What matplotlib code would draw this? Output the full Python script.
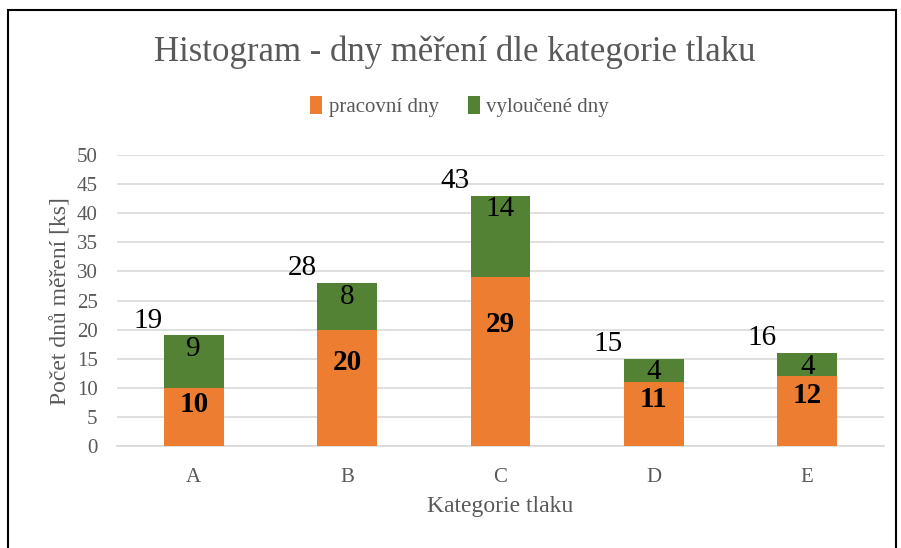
import matplotlib
matplotlib.use("Agg")
import matplotlib.pyplot as plt
import matplotlib.patches as patches

# data
categories = ["A", "B", "C", "D", "E"]
pracovni = [10, 20, 29, 11, 12]
vyloucene = [9, 8, 14, 4, 4]
totals = [p + v for p, v in zip(pracovni, vyloucene)]
yticks = [0, 5, 10, 15, 20, 25, 30, 35, 40, 45, 50]

orange = "#ED7D31"
green = "#548235"
gray = "#595959"

plt.rcParams['font.family'] = ['Liberation Serif', 'DejaVu Serif']

fig = plt.figure(figsize=(9.01, 5.48), dpi=100, facecolor="w")
ax = fig.add_axes([0.130, 0.186, 0.851, 0.531])

x = list(range(len(categories)))
w = 0.39
ax.bar(x, pracovni, width=w, color=orange, label="pracovní dny", zorder=3)
ax.bar(x, vyloucene, width=w, bottom=pracovni, color=green, label="vyloučené dny", zorder=3)

# popisky
for i in x:
    ax.text(i, pracovni[i] * 0.72, str(pracovni[i]), ha="center", va="center",
            fontsize=21, fontweight="bold", color="black", zorder=4)
    ax.text(i, totals[i] - 0.1, str(vyloucene[i]), ha="center", va="top",
            fontsize=21, color="black", zorder=4)
    ax.text(i - 0.2, totals[i] + 0.3, str(totals[i]), ha="right", va="bottom",
            fontsize=21, color="black", zorder=4)

ax.set_xlim(-0.5, len(categories) - 0.5)
ax.set_ylim(0, 50)
ax.set_yticks(yticks)
ax.set_xticks(x)
ax.set_xticklabels(categories)
ax.tick_params(axis="both", length=0, labelsize=15, colors=gray)
ax.tick_params(axis="x", pad=16)
ax.tick_params(axis="y", pad=14)
ax.grid(axis="y", color="#D9D9D9", lw=1.2, zorder=0)
for s in ["top", "right", "left"]:
    ax.spines[s].set_visible(False)
ax.spines["bottom"].set_color("#D9D9D9")
ax.spines["bottom"].set_linewidth(1.2)

ax.set_ylabel("Počet dnů měření [ks]", fontsize=17, color=gray, labelpad=4)
ax.set_xlabel("Kategorie tlaku", fontsize=17, color=gray, labelpad=6)

fig.text(0.505, 0.905, "Histogram - dny měření dle kategorie tlaku",
         ha="center", va="center", fontsize=25, color=gray)

ax.legend(loc="center", bbox_to_anchor=(0.51, 0.805), bbox_transform=fig.transFigure,
          ncol=2, frameon=False, fontsize=15, labelcolor=gray,
          handlelength=0.6, handleheight=0.9, handletextpad=0.3, columnspacing=1.4)

# ramecek
fig.patches.append(patches.Rectangle((0.009, -0.05), 0.986, 1.032,
                                     transform=fig.transFigure, fill=False,
                                     edgecolor="black", lw=1.5))

plt.savefig("out.png", dpi=100)
